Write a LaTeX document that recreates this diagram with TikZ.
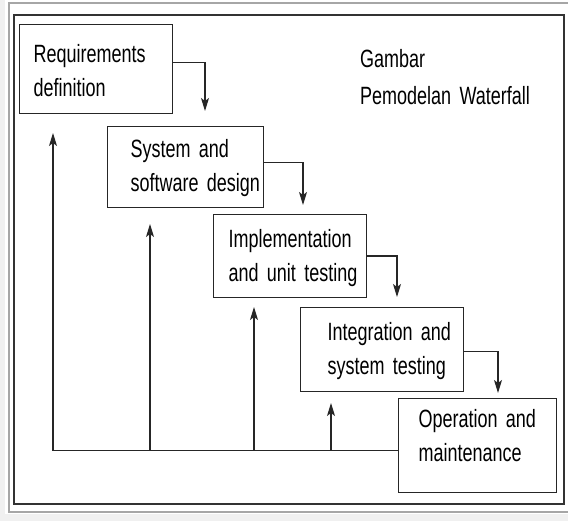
\documentclass[tikz,border=0pt]{standalone}
\usepackage{fontspec}
\newfontfamily\wffont[FakeStretch=0.72]{Liberation Sans}
\usetikzlibrary{arrows.meta}
\newcommand\wfind[3]{\hspace*{#1}#2\\\hspace*{#1}#3}
\begin{document}
\begin{tikzpicture}[x=1pt,y=-1pt,
  wfbox/.style={draw=black!85, line width=1.2pt, anchor=north west, inner sep=0pt,
    align=left, text height=18pt, text=black,
    font=\wffont\fontsize{25}{34}\selectfont},
  wfline/.style={draw=black!85, line width=1.2pt},
  wfarrow/.style={wfline, -{Stealth[length=13pt,width=8pt,inset=3pt]}}]
\useasboundingbox (0,0) rectangle (568,521);
% background and frame
\fill[gray!12] (0,0) rectangle (5,521);
\fill[gray!12] (0,514) rectangle (568,521);
\draw[gray!70, line width=1.5pt] (9,3) rectangle (574,512);
\draw[black!80, line width=1.5pt] (14,15) rectangle (564,504);
% boxes
\node[wfbox, text width=153pt, minimum height=89pt, text depth=31pt] (req) at (19,24)
  {\wfind{14pt}{Requirements}{definition}};
\node[wfbox, text width=156pt, minimum height=81pt, text depth=37pt] (sys) at (107,126)
  {\wfind{23pt}{System and}{software design}};
\node[wfbox, text width=153pt, minimum height=83pt, text depth=35pt] (impl) at (213,214)
  {\wfind{15pt}{Implementation}{and unit testing}};
\node[wfbox, text width=163pt, minimum height=84pt, text depth=36pt] (int) at (300,307)
  {\wfind{27pt}{Integration and}{system testing}};
\node[wfbox, text width=158pt, minimum height=94pt, text depth=54pt] (op) at (398,398)
  {\wfind{20pt}{Operation and}{maintenance}};
% title
\node[anchor=base west, inner sep=0pt, text width=200pt, align=left, text=black,
  font=\wffont\fontsize{25}{35}\selectfont] (title) at (360,68)
  {Gambar\\[2pt]Pemodelan Waterfall};
% forward connectors
\coordinate (e1) at (205,111);
\coordinate (e2) at (303,205);
\coordinate (e3) at (397,297);
\coordinate (e4) at (498,393);
\draw[wfarrow] ([yshift=6.5pt]req.east) -| (e1);
\draw[wfarrow] ([yshift=4.5pt]sys.east) -| (e2);
\draw[wfarrow] (impl.east) -| (e3);
\draw[wfarrow] ([yshift=-2pt]int.east) -| (e4);
% feedback
\coordinate (u1) at (53,133);
\coordinate (b2) at (150,450); \coordinate (u2) at (150,224);
\coordinate (b3) at (254,450); \coordinate (u3) at (254,307);
\coordinate (b4) at (331,450); \coordinate (u4) at (331,403);
\draw[wfarrow] ([yshift=-5pt]op.west) -| (u1);
\draw[wfarrow] (b2) -- (u2);
\draw[wfarrow] (b3) -- (u3);
\draw[wfarrow] (b4) -- (u4);
\end{tikzpicture}
\end{document}
